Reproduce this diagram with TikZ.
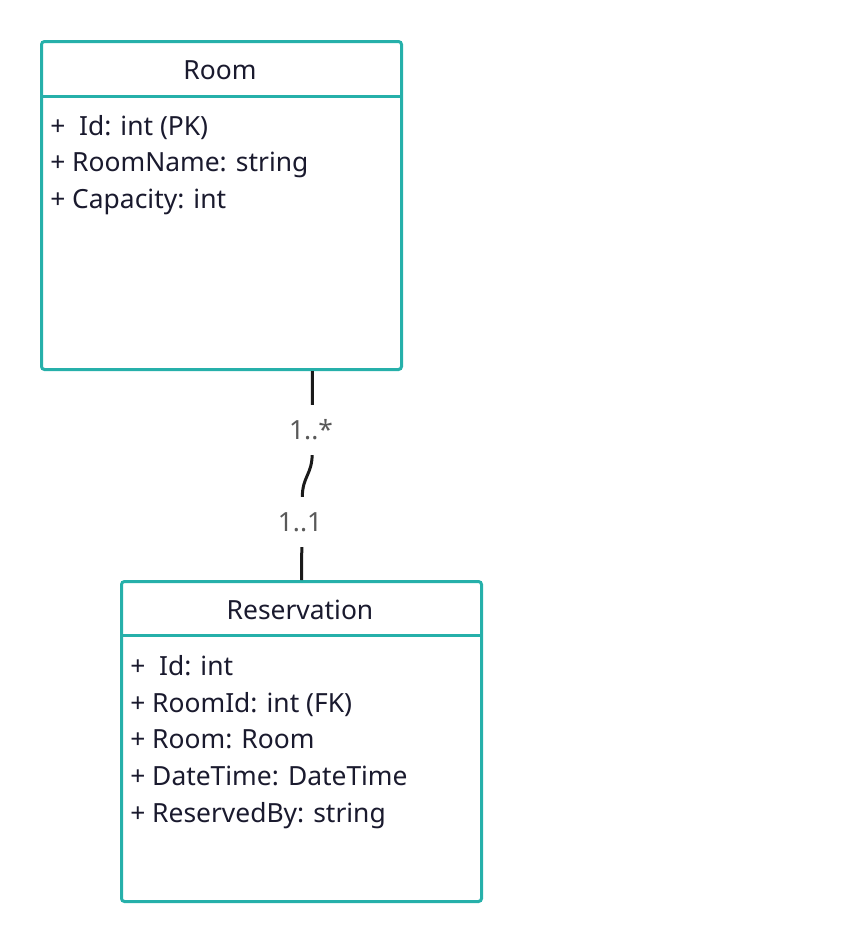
\documentclass[tikz,border=0pt]{standalone}
\usepackage{fontspec}
\setmainfont{Noto Sans}
\usetikzlibrary{calc}
\definecolor{teal1}{HTML}{26B0AA}
\definecolor{ink}{HTML}{1A1A2E}
\definecolor{lbl}{HTML}{595959}
\definecolor{conn}{HTML}{1A1A1A}
\tikzset{
  classbox/.style={draw=teal1, line width=2.25pt, rounded corners=2.25pt, fill=white, inner sep=0pt, anchor=north west},
  divider/.style={draw=teal1, line width=2.25pt},
  titletext/.style={font=\fontsize{19.8}{23}\selectfont, text=ink, inner sep=0pt, anchor=base},
  attr/.style={font=\fontsize{19.8}{23}\selectfont, text=ink, inner sep=0pt, anchor=base west},
  mult/.style={font=\fontsize{19.8}{23}\selectfont, text=lbl, fill=white, inner sep=0pt, minimum height=37.5pt},
  assoc/.style={draw=conn, line width=2.25pt}
}
\begin{document}
\begin{tikzpicture}[x=0.75pt,y=-0.75pt]
\useasboundingbox (0,0) rectangle (840,940);
% Room
\node[classbox, minimum width=270pt, minimum height=246pt] (room) at (40,40) {};
\draw[divider] (40,96) -- (400,96);
\node[titletext] (roomt) at (220,79) {Room};
\node[attr] (r1) at (50,135) {+\ \ Id: int (PK)};
\node[attr] (r2) at (50,171) {+ RoomName: string};
\node[attr] (r3) at (50,208) {+ Capacity: int};
% Reservation
\node[classbox, minimum width=270pt, minimum height=240pt] (res) at (120,580) {};
\draw[divider] (120,635) -- (480,635);
\node[titletext] (rest) at (300,619) {Reservation};
\node[attr] (s1) at (130,675) {+\ \ Id: int};
\node[attr] (s2) at (130,712) {+ RoomId: int (FK)};
\node[attr] (s3) at (130,748) {+ Room: Room};
\node[attr] (s4) at (130,785) {+ DateTime: DateTime};
\node[attr] (s5) at (130,822) {+ ReservedBy: string};
% association
\coordinate (top) at ($(room.south west)!0.75!(room.south east)$);
\draw[assoc] (top) -- ++(0,82) .. controls ++(0,22) and ++(0,-22) .. ++(-10,45) -- (res.north);
\node[mult] (m1) at (311,430) {1..*};
\node[mult] (m2) at (300,522) {1..1};
\end{tikzpicture}
\end{document}
